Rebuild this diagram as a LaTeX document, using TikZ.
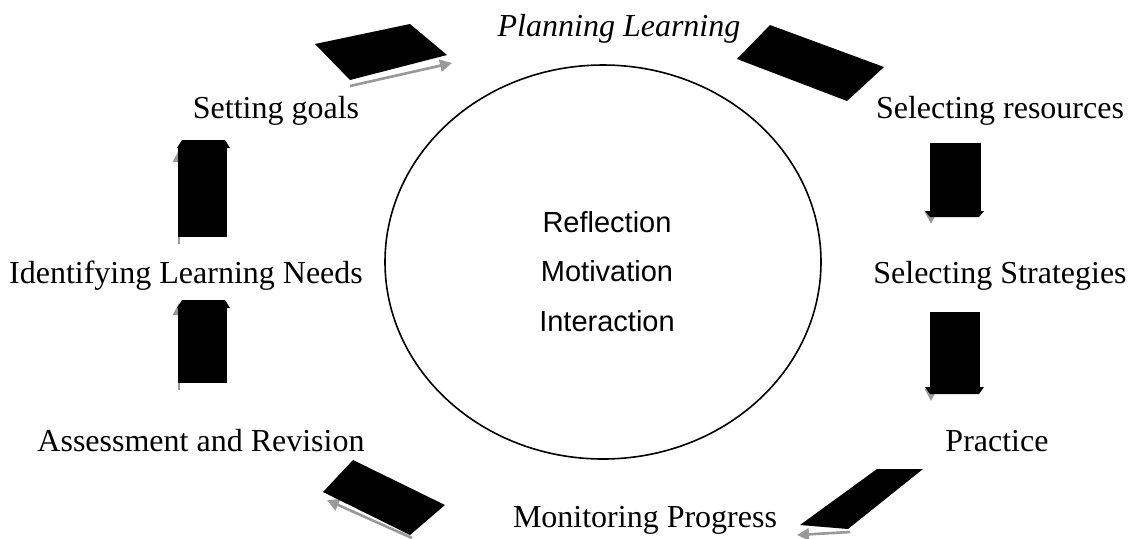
\documentclass[tikz,border=0pt]{standalone}
\usepackage{fontspec}
\setmainfont{Liberation Serif}
\setsansfont{Liberation Sans}
\usetikzlibrary{arrows.meta,shapes.geometric}
\begin{document}
\begin{tikzpicture}[x=0.5pt,y=-0.5pt,
  lbl/.style={font=\fontsize{16}{19}\selectfont, inner sep=0pt},
  ctr/.style={font=\sffamily\fontsize{14.5}{17}\selectfont, inner sep=0pt},
  blk/.style={fill=black, draw=none},
  gar/.style={draw=black!40, line width=1.3pt, -{Triangle[length=6pt,width=6pt]}}]
\useasboundingbox (0,0) rectangle (1132,538);
% ellipse
\node[draw, ellipse, minimum width=218pt, minimum height=197pt, inner sep=0pt, line width=0.8pt] (ell) at (603,262) {};
% labels
\node[lbl] (plan) at (619,29) {\textit{Planning Learning}};
\node[lbl] (goals) at (276,111) {Setting goals};
\node[lbl] (res) at (1000,111) {Selecting resources};
\node[lbl] (needs) at (186,276) {Identifying Learning Needs};
\node[lbl] (strat) at (1000,276) {Selecting Strategies};
\node[lbl] (assess) at (201,441) {Assessment and Revision};
\node[lbl] (prac) at (997,441) {Practice};
\node[lbl] (mon) at (645,520) {Monitoring Progress};
\node[ctr] (refl) at (607,222) {Reflection};
\node[ctr] (moti) at (607,271) {Motivation};
\node[ctr] (inter) at (607,321) {Interaction};
% top-left arrow
\draw[gar] (350,86) -- (452,63);
\fill[blk] (315,44) -- (410,24) -- (447,55) -- (350,80) -- cycle;
% top-right arrow
\fill[blk] (770,25) -- (884,67) -- (847,101) -- (737,59) -- cycle;
% right down arrows
\draw[gar] (931,143) -- (931,224);
\fill[blk] (930,143) rectangle (981,213);
\fill[blk] (925,211) -- (984,211) -- (979,217) -- (930,217) -- cycle;
\draw[gar] (931,312) -- (931,401);
\fill[blk] (930,312) rectangle (980,388);
\fill[blk] (925,387) -- (984,387) -- (979,394) -- (930,394) -- cycle;
% left up arrows
\draw[gar] (179,244) -- (179,150);
\fill[blk] (178,147) rectangle (227,237);
\fill[blk] (177,148) -- (230,148) -- (225,140) -- (182,140) -- cycle;
\draw[gar] (179,390) -- (179,303);
\fill[blk] (178,307) rectangle (227,383);
\fill[blk] (177,308) -- (230,308) -- (225,300) -- (182,300) -- cycle;
% bottom-left arrow
\draw[gar] (412,538) -- (327,500);
\fill[blk] (353,460) -- (445,505) -- (410,535) -- (323,492) -- cycle;
% bottom-right arrow
\draw[gar] (850,532) -- (797,535);
\fill[blk] (877,469) -- (923,469) -- (848,529) -- (800,525) -- cycle;
\end{tikzpicture}
\end{document}
